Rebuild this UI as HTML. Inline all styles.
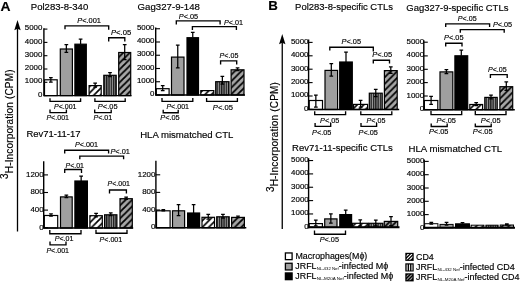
<!DOCTYPE html>
<html lang="en"><head><meta charset="utf-8"><title>Figure</title>
<style>html,body{margin:0;padding:0;background:#fff;}body{width:520px;height:283px;overflow:hidden;}svg{display:block;}</style>
</head><body>
<svg width="520" height="283" viewBox="0 0 520 283" font-family="Liberation Sans, sans-serif" fill="#000"><style>text{stroke:#000;stroke-width:0.16px;}</style>
<defs>
<pattern id="hw" patternUnits="userSpaceOnUse" width="6.5" height="6.5" patternTransform="translate(0.5,0)">
<rect width="6.5" height="6.5" fill="#fff"/><path d="M-1.625 1.625L1.625 -1.625M-1.625 8.125L8.125 -1.625M4.875 8.125L8.125 4.875" stroke="#000" stroke-width="1.65"/></pattern>
<pattern id="dg" patternUnits="userSpaceOnUse" width="6.5" height="6.5" patternTransform="translate(0.5,0)">
<rect width="6.5" height="6.5" fill="#a6a6a6"/><path d="M-1.625 1.625L1.625 -1.625M-1.625 8.125L8.125 -1.625M4.875 8.125L8.125 4.875" stroke="#000" stroke-width="1.8"/></pattern>
<pattern id="vs" patternUnits="userSpaceOnUse" width="2.3" height="4" patternTransform="translate(0.3,0)">
<rect width="2.3" height="4" fill="#989898"/><rect x="0" width="1.3" height="4" fill="#1c1c1c"/></pattern>
</defs>
<rect width="520" height="283" fill="#fff"/>
<text x="0.60" y="10.50" font-size="12.5" font-weight="bold" textLength="10.00" lengthAdjust="spacingAndGlyphs">A</text>
<text x="268.20" y="10.00" font-size="12.5" font-weight="bold" textLength="9.60" lengthAdjust="spacingAndGlyphs">B</text>
<text x="30.80" y="10.30" font-size="9.6" textLength="57.40" lengthAdjust="spacingAndGlyphs">Pol283-8-340</text>
<text x="137.60" y="10.30" font-size="9.6" textLength="62.30" lengthAdjust="spacingAndGlyphs">Gag327-9-148</text>
<text x="26.40" y="137.00" font-size="9.6" textLength="54.10" lengthAdjust="spacingAndGlyphs">Rev71-11-17</text>
<text x="140.20" y="137.80" font-size="9.6" textLength="93.20" lengthAdjust="spacingAndGlyphs">HLA mismatched CTL</text>
<text x="295.10" y="9.90" font-size="9.6" textLength="97.90" lengthAdjust="spacingAndGlyphs">Pol283-8-specific CTLs</text>
<text x="406.30" y="11.30" font-size="9.6" textLength="102.10" lengthAdjust="spacingAndGlyphs">Gag327-9-specific CTLs</text>
<text x="292.00" y="150.90" font-size="9.6" textLength="100.90" lengthAdjust="spacingAndGlyphs">Rev71-11-specific CTLs</text>
<text x="408.50" y="152.00" font-size="9.6" textLength="93.70" lengthAdjust="spacingAndGlyphs">HLA mismatched CTL</text>
<path d="M17.50 231.50V28.20" stroke="#000" stroke-width="1.3" fill="none"/>
<path d="M17.50 20.00L20.70 30.20L17.50 28.70L14.30 30.20Z" fill="#000"/>
<path d="M282.25 229.00V42.20" stroke="#000" stroke-width="1.3" fill="none"/>
<path d="M282.25 34.00L285.45 44.20L282.25 42.70L279.05 44.20Z" fill="#000"/>
<g transform="translate(12.60,178.90) rotate(-90)"><text x="0" y="0" font-size="10" textLength="109.40" lengthAdjust="spacing"><tspan dy="-4.7">3</tspan><tspan dy="4.7">H-Incorporation (CPM)</tspan></text></g>
<g transform="translate(278.20,192.10) rotate(-90)"><text x="0" y="0" font-size="10" textLength="110.00" lengthAdjust="spacing"><tspan dy="-4.7">3</tspan><tspan dy="4.7">H-Incorporation (CPM)</tspan></text></g>
<rect x="44.50" y="79.80" width="12.70" height="15.80" fill="#fff" stroke="#000" stroke-width="1.2"/>
<rect x="60.30" y="49.00" width="12.10" height="46.60" fill="#9f9f9f" stroke="#000" stroke-width="1.2"/>
<rect x="74.90" y="44.20" width="11.40" height="51.40" fill="#000" stroke="#000" stroke-width="1.2"/>
<rect x="89.10" y="85.60" width="12.10" height="10.00" fill="url(#hw)" stroke="#000" stroke-width="1.2"/>
<rect x="103.80" y="75.30" width="12.40" height="20.30" fill="url(#vs)" stroke="#000" stroke-width="1.2"/>
<rect x="118.70" y="52.50" width="12.00" height="43.10" fill="url(#dg)" stroke="#000" stroke-width="1.2"/>
<path d="M43.90 28.30V95.60H131.50" fill="none" stroke="#000" stroke-width="1.4"/>
<path d="M43.90 29.10H47.40" stroke="#000" stroke-width="1.1"/>
<path d="M43.90 42.40H47.40" stroke="#000" stroke-width="1.1"/>
<path d="M43.90 55.70H47.40" stroke="#000" stroke-width="1.1"/>
<path d="M43.90 69.00H47.40" stroke="#000" stroke-width="1.1"/>
<path d="M43.90 82.30H47.40" stroke="#000" stroke-width="1.1"/>
<path d="M43.90 95.60H47.40" stroke="#000" stroke-width="1.1"/>
<path d="M50.85 77.60V82.00M49.00 77.60h3.7M49.00 82.00h3.7" fill="none" stroke="#000" stroke-width="1.25"/>
<path d="M66.35 44.60V52.30M64.50 44.60h3.7M64.50 52.30h3.7" fill="none" stroke="#000" stroke-width="1.25"/>
<path d="M80.60 39.20V44.10M78.75 39.20h3.7" fill="none" stroke="#000" stroke-width="1.25"/>
<path d="M95.15 83.20V87.00M93.30 83.20h3.7M93.30 87.00h3.7" fill="none" stroke="#000" stroke-width="1.25"/>
<path d="M110.00 72.50V76.50M108.15 72.50h3.7M108.15 76.50h3.7" fill="none" stroke="#000" stroke-width="1.25"/>
<path d="M124.70 44.70V59.50M122.85 44.70h3.7M122.85 59.50h3.7" fill="none" stroke="#000" stroke-width="1.25"/>
<text x="24.83" y="30.23" font-size="7.9" textLength="17.57" lengthAdjust="spacingAndGlyphs">5000</text>
<text x="24.83" y="43.53" font-size="7.9" textLength="17.57" lengthAdjust="spacingAndGlyphs">4000</text>
<text x="24.83" y="56.83" font-size="7.9" textLength="17.57" lengthAdjust="spacingAndGlyphs">3000</text>
<text x="24.83" y="70.13" font-size="7.9" textLength="17.57" lengthAdjust="spacingAndGlyphs">2000</text>
<text x="24.83" y="83.43" font-size="7.9" textLength="17.57" lengthAdjust="spacingAndGlyphs">1000</text>
<text x="38.01" y="96.73" font-size="7.9" textLength="4.39" lengthAdjust="spacingAndGlyphs">0</text>
<rect x="156.30" y="88.70" width="12.80" height="6.30" fill="#fff" stroke="#000" stroke-width="1.2"/>
<rect x="171.50" y="57.10" width="12.50" height="37.90" fill="#9f9f9f" stroke="#000" stroke-width="1.2"/>
<rect x="187.00" y="37.70" width="11.50" height="57.30" fill="#000" stroke="#000" stroke-width="1.2"/>
<rect x="200.80" y="90.60" width="13.00" height="4.40" fill="url(#hw)" stroke="#000" stroke-width="1.2"/>
<rect x="215.70" y="81.70" width="13.30" height="13.30" fill="url(#vs)" stroke="#000" stroke-width="1.2"/>
<rect x="231.10" y="69.80" width="12.90" height="25.20" fill="url(#dg)" stroke="#000" stroke-width="1.2"/>
<path d="M155.70 27.50V95.00H245.00" fill="none" stroke="#000" stroke-width="1.4"/>
<path d="M155.70 28.75H160.00" stroke="#000" stroke-width="1.1"/>
<path d="M155.70 42.00H160.00" stroke="#000" stroke-width="1.1"/>
<path d="M155.70 55.25H160.00" stroke="#000" stroke-width="1.1"/>
<path d="M155.70 68.50H160.00" stroke="#000" stroke-width="1.1"/>
<path d="M155.70 81.75H160.00" stroke="#000" stroke-width="1.1"/>
<path d="M155.70 95.00H160.00" stroke="#000" stroke-width="1.1"/>
<path d="M162.70 85.60V90.60M160.85 85.60h3.7M160.85 90.60h3.7" fill="none" stroke="#000" stroke-width="1.25"/>
<path d="M177.75 45.20V67.80M175.90 45.20h3.7M175.90 67.80h3.7" fill="none" stroke="#000" stroke-width="1.25"/>
<path d="M192.75 32.40V37.60M190.90 32.40h3.7" fill="none" stroke="#000" stroke-width="1.25"/>
<path d="M222.35 76.30V84.00M220.50 76.30h3.7M220.50 84.00h3.7" fill="none" stroke="#000" stroke-width="1.25"/>
<path d="M237.55 67.80V70.60M235.70 67.80h3.7M235.70 70.60h3.7" fill="none" stroke="#000" stroke-width="1.25"/>
<text x="136.93" y="29.78" font-size="7.9" textLength="17.57" lengthAdjust="spacingAndGlyphs">5000</text>
<text x="136.93" y="43.03" font-size="7.9" textLength="17.57" lengthAdjust="spacingAndGlyphs">4000</text>
<text x="136.93" y="56.28" font-size="7.9" textLength="17.57" lengthAdjust="spacingAndGlyphs">3000</text>
<text x="136.93" y="69.53" font-size="7.9" textLength="17.57" lengthAdjust="spacingAndGlyphs">2000</text>
<text x="136.93" y="82.78" font-size="7.9" textLength="17.57" lengthAdjust="spacingAndGlyphs">1000</text>
<text x="150.11" y="96.03" font-size="7.9" textLength="4.39" lengthAdjust="spacingAndGlyphs">0</text>
<rect x="44.30" y="215.50" width="13.40" height="12.50" fill="#fff" stroke="#000" stroke-width="1.2"/>
<rect x="60.50" y="196.90" width="11.70" height="31.10" fill="#9f9f9f" stroke="#000" stroke-width="1.2"/>
<rect x="74.90" y="181.00" width="12.50" height="47.00" fill="#000" stroke="#000" stroke-width="1.2"/>
<rect x="89.90" y="215.70" width="12.40" height="12.30" fill="url(#hw)" stroke="#000" stroke-width="1.2"/>
<rect x="104.60" y="214.80" width="12.30" height="13.20" fill="url(#vs)" stroke="#000" stroke-width="1.2"/>
<rect x="120.00" y="198.70" width="12.30" height="29.30" fill="url(#dg)" stroke="#000" stroke-width="1.2"/>
<path d="M43.70 161.20V228.00H133.20" fill="none" stroke="#000" stroke-width="1.4"/>
<path d="M43.70 174.90H48.00" stroke="#000" stroke-width="1.1"/>
<path d="M43.70 192.50H48.00" stroke="#000" stroke-width="1.1"/>
<path d="M43.70 210.10H48.00" stroke="#000" stroke-width="1.1"/>
<path d="M43.70 227.70H48.00" stroke="#000" stroke-width="1.1"/>
<path d="M51.00 213.80V216.20M49.15 213.80h3.7M49.15 216.20h3.7" fill="none" stroke="#000" stroke-width="1.25"/>
<path d="M66.35 195.00V197.60M64.50 195.00h3.7M64.50 197.60h3.7" fill="none" stroke="#000" stroke-width="1.25"/>
<path d="M81.15 176.20V180.90M79.30 176.20h3.7" fill="none" stroke="#000" stroke-width="1.25"/>
<path d="M96.10 213.30V216.90M94.25 213.30h3.7M94.25 216.90h3.7" fill="none" stroke="#000" stroke-width="1.25"/>
<path d="M110.75 212.90V215.60M108.90 212.90h3.7M108.90 215.60h3.7" fill="none" stroke="#000" stroke-width="1.25"/>
<path d="M126.15 197.20V199.30M124.30 197.20h3.7M124.30 199.30h3.7" fill="none" stroke="#000" stroke-width="1.25"/>
<text x="26.03" y="176.83" font-size="7.9" textLength="17.57" lengthAdjust="spacingAndGlyphs">1200</text>
<text x="30.42" y="194.43" font-size="7.9" textLength="13.18" lengthAdjust="spacingAndGlyphs">800</text>
<text x="30.42" y="212.03" font-size="7.9" textLength="13.18" lengthAdjust="spacingAndGlyphs">400</text>
<text x="39.21" y="229.63" font-size="7.9" textLength="4.39" lengthAdjust="spacingAndGlyphs">0</text>
<rect x="156.50" y="210.80" width="13.60" height="17.00" fill="#fff" stroke="#000" stroke-width="1.2"/>
<rect x="172.50" y="210.80" width="12.10" height="17.00" fill="#9f9f9f" stroke="#000" stroke-width="1.2"/>
<rect x="187.60" y="213.00" width="12.00" height="14.80" fill="#000" stroke="#000" stroke-width="1.2"/>
<rect x="202.00" y="217.30" width="12.50" height="10.50" fill="url(#hw)" stroke="#000" stroke-width="1.2"/>
<rect x="216.70" y="216.80" width="12.50" height="11.00" fill="url(#vs)" stroke="#000" stroke-width="1.2"/>
<rect x="231.60" y="217.40" width="12.80" height="10.40" fill="url(#dg)" stroke="#000" stroke-width="1.2"/>
<path d="M155.90 160.70V227.80H246.30" fill="none" stroke="#000" stroke-width="1.4"/>
<path d="M155.90 174.80H160.20" stroke="#000" stroke-width="1.1"/>
<path d="M155.90 192.40H160.20" stroke="#000" stroke-width="1.1"/>
<path d="M155.90 210.00H160.20" stroke="#000" stroke-width="1.1"/>
<path d="M155.90 227.60H160.20" stroke="#000" stroke-width="1.1"/>
<path d="M163.30 209.60V210.80M161.45 209.60h3.7M161.45 210.80h3.7" fill="none" stroke="#000" stroke-width="1.25"/>
<path d="M178.55 204.70V215.70M176.70 204.70h3.7M176.70 215.70h3.7" fill="none" stroke="#000" stroke-width="1.25"/>
<path d="M193.60 204.70V212.90M191.75 204.70h3.7" fill="none" stroke="#000" stroke-width="1.25"/>
<path d="M208.25 214.40V219.00M206.40 214.40h3.7M206.40 219.00h3.7" fill="none" stroke="#000" stroke-width="1.25"/>
<path d="M222.95 214.30V218.20M221.10 214.30h3.7M221.10 218.20h3.7" fill="none" stroke="#000" stroke-width="1.25"/>
<path d="M238.00 216.10V217.50M236.15 216.10h3.7M236.15 217.50h3.7" fill="none" stroke="#000" stroke-width="1.25"/>
<text x="137.83" y="176.53" font-size="7.9" textLength="17.57" lengthAdjust="spacingAndGlyphs">1200</text>
<text x="142.22" y="194.13" font-size="7.9" textLength="13.18" lengthAdjust="spacingAndGlyphs">800</text>
<text x="142.22" y="211.73" font-size="7.9" textLength="13.18" lengthAdjust="spacingAndGlyphs">400</text>
<text x="151.01" y="229.33" font-size="7.9" textLength="4.39" lengthAdjust="spacingAndGlyphs">0</text>
<rect x="309.20" y="100.50" width="13.30" height="9.00" fill="#fff" stroke="#000" stroke-width="1.2"/>
<rect x="325.00" y="70.40" width="12.60" height="39.10" fill="#9f9f9f" stroke="#000" stroke-width="1.2"/>
<rect x="339.70" y="62.00" width="12.60" height="47.50" fill="#000" stroke="#000" stroke-width="1.2"/>
<rect x="353.60" y="104.40" width="14.00" height="5.10" fill="url(#hw)" stroke="#000" stroke-width="1.2"/>
<rect x="369.30" y="93.20" width="12.90" height="16.30" fill="url(#vs)" stroke="#000" stroke-width="1.2"/>
<rect x="384.40" y="70.60" width="12.80" height="38.90" fill="url(#dg)" stroke="#000" stroke-width="1.2"/>
<path d="M308.60 39.40V109.50H399.20" fill="none" stroke="#000" stroke-width="1.4"/>
<path d="M308.60 42.40H312.60" stroke="#000" stroke-width="1.1"/>
<path d="M308.60 55.80H312.60" stroke="#000" stroke-width="1.1"/>
<path d="M308.60 69.20H312.60" stroke="#000" stroke-width="1.1"/>
<path d="M308.60 82.60H312.60" stroke="#000" stroke-width="1.1"/>
<path d="M308.60 96.00H312.60" stroke="#000" stroke-width="1.1"/>
<path d="M308.60 109.40H312.60" stroke="#000" stroke-width="1.1"/>
<path d="M315.85 95.10V107.00M314.00 95.10h3.7M314.00 107.00h3.7" fill="none" stroke="#000" stroke-width="1.25"/>
<path d="M331.30 63.60V76.00M329.45 63.60h3.7M329.45 76.00h3.7" fill="none" stroke="#000" stroke-width="1.25"/>
<path d="M346.00 52.20V61.90M344.15 52.20h3.7" fill="none" stroke="#000" stroke-width="1.25"/>
<path d="M360.60 100.40V107.20M358.75 100.40h3.7M358.75 107.20h3.7" fill="none" stroke="#000" stroke-width="1.25"/>
<path d="M375.75 89.40V96.60M373.90 89.40h3.7M373.90 96.60h3.7" fill="none" stroke="#000" stroke-width="1.25"/>
<path d="M390.80 66.90V73.40M388.95 66.90h3.7M388.95 73.40h3.7" fill="none" stroke="#000" stroke-width="1.25"/>
<text x="290.93" y="43.73" font-size="7.9" textLength="17.57" lengthAdjust="spacingAndGlyphs">5000</text>
<text x="290.93" y="57.13" font-size="7.9" textLength="17.57" lengthAdjust="spacingAndGlyphs">4000</text>
<text x="290.93" y="70.53" font-size="7.9" textLength="17.57" lengthAdjust="spacingAndGlyphs">3000</text>
<text x="290.93" y="83.93" font-size="7.9" textLength="17.57" lengthAdjust="spacingAndGlyphs">2000</text>
<text x="290.93" y="97.33" font-size="7.9" textLength="17.57" lengthAdjust="spacingAndGlyphs">1000</text>
<text x="304.11" y="110.73" font-size="7.9" textLength="4.39" lengthAdjust="spacingAndGlyphs">0</text>
<rect x="424.40" y="100.50" width="13.40" height="9.20" fill="#fff" stroke="#000" stroke-width="1.2"/>
<rect x="440.00" y="71.90" width="12.80" height="37.80" fill="#9f9f9f" stroke="#000" stroke-width="1.2"/>
<rect x="454.90" y="55.80" width="12.80" height="53.90" fill="#000" stroke="#000" stroke-width="1.2"/>
<rect x="469.80" y="104.50" width="12.80" height="5.20" fill="url(#hw)" stroke="#000" stroke-width="1.2"/>
<rect x="484.80" y="97.40" width="12.40" height="12.30" fill="url(#vs)" stroke="#000" stroke-width="1.2"/>
<rect x="499.90" y="86.70" width="12.80" height="23.00" fill="url(#dg)" stroke="#000" stroke-width="1.2"/>
<path d="M423.80 40.20V109.70H514.80" fill="none" stroke="#000" stroke-width="1.4"/>
<path d="M423.80 42.20H427.80" stroke="#000" stroke-width="1.1"/>
<path d="M423.80 55.90H427.80" stroke="#000" stroke-width="1.1"/>
<path d="M423.80 69.30H427.80" stroke="#000" stroke-width="1.1"/>
<path d="M423.80 82.60H427.80" stroke="#000" stroke-width="1.1"/>
<path d="M423.80 96.00H427.80" stroke="#000" stroke-width="1.1"/>
<path d="M423.80 109.50H427.80" stroke="#000" stroke-width="1.1"/>
<path d="M431.10 96.40V104.30M429.25 96.40h3.7M429.25 104.30h3.7" fill="none" stroke="#000" stroke-width="1.25"/>
<path d="M446.40 69.50V73.50M444.55 69.50h3.7M444.55 73.50h3.7" fill="none" stroke="#000" stroke-width="1.25"/>
<path d="M461.30 50.20V55.70M459.45 50.20h3.7" fill="none" stroke="#000" stroke-width="1.25"/>
<path d="M476.20 102.50V105.50M474.35 102.50h3.7M474.35 105.50h3.7" fill="none" stroke="#000" stroke-width="1.25"/>
<path d="M491.00 95.00V98.80M489.15 95.00h3.7M489.15 98.80h3.7" fill="none" stroke="#000" stroke-width="1.25"/>
<path d="M506.30 81.80V90.30M504.45 81.80h3.7M504.45 90.30h3.7" fill="none" stroke="#000" stroke-width="1.25"/>
<text x="406.53" y="43.73" font-size="7.9" textLength="17.57" lengthAdjust="spacingAndGlyphs">5000</text>
<text x="406.53" y="57.43" font-size="7.9" textLength="17.57" lengthAdjust="spacingAndGlyphs">4000</text>
<text x="406.53" y="70.83" font-size="7.9" textLength="17.57" lengthAdjust="spacingAndGlyphs">3000</text>
<text x="406.53" y="84.13" font-size="7.9" textLength="17.57" lengthAdjust="spacingAndGlyphs">2000</text>
<text x="406.53" y="97.53" font-size="7.9" textLength="17.57" lengthAdjust="spacingAndGlyphs">1000</text>
<text x="419.71" y="111.03" font-size="7.9" textLength="4.39" lengthAdjust="spacingAndGlyphs">0</text>
<rect x="309.20" y="223.60" width="13.20" height="3.70" fill="#fff" stroke="#000" stroke-width="1.2"/>
<rect x="324.70" y="218.90" width="12.30" height="8.40" fill="#9f9f9f" stroke="#000" stroke-width="1.2"/>
<rect x="339.80" y="214.60" width="11.80" height="12.70" fill="#000" stroke="#000" stroke-width="1.2"/>
<rect x="352.60" y="223.30" width="15.30" height="4.00" fill="url(#hw)" stroke="#000" stroke-width="1.2"/>
<rect x="368.70" y="223.30" width="14.20" height="4.00" fill="url(#vs)" stroke="#000" stroke-width="1.2"/>
<rect x="384.30" y="221.40" width="13.40" height="5.90" fill="url(#dg)" stroke="#000" stroke-width="1.2"/>
<path d="M308.60 158.20V228.30" fill="none" stroke="#000" stroke-width="1.4"/>
<path d="M307.90 227.30H399.50" fill="none" stroke="#000" stroke-width="2.0"/>
<path d="M308.60 160.55H313.10" stroke="#000" stroke-width="1.1"/>
<path d="M308.60 173.90H313.10" stroke="#000" stroke-width="1.1"/>
<path d="M308.60 187.25H313.10" stroke="#000" stroke-width="1.1"/>
<path d="M308.60 200.60H313.10" stroke="#000" stroke-width="1.1"/>
<path d="M308.60 213.95H313.10" stroke="#000" stroke-width="1.1"/>
<path d="M308.60 227.30H313.10" stroke="#000" stroke-width="1.1"/>
<path d="M315.80 220.10V225.80M313.95 220.10h3.7M313.95 225.80h3.7" fill="none" stroke="#000" stroke-width="1.25"/>
<path d="M330.85 213.90V223.00M329.00 213.90h3.7M329.00 223.00h3.7" fill="none" stroke="#000" stroke-width="1.25"/>
<path d="M345.70 210.20V214.50M343.85 210.20h3.7" fill="none" stroke="#000" stroke-width="1.25"/>
<path d="M360.25 219.80V225.80M358.40 219.80h3.7M358.40 225.80h3.7" fill="none" stroke="#000" stroke-width="1.25"/>
<path d="M375.80 220.20V225.80M373.95 220.20h3.7M373.95 225.80h3.7" fill="none" stroke="#000" stroke-width="1.25"/>
<path d="M391.00 216.50V225.50M389.15 216.50h3.7M389.15 225.50h3.7" fill="none" stroke="#000" stroke-width="1.25"/>
<text x="291.13" y="161.98" font-size="7.9" textLength="17.57" lengthAdjust="spacingAndGlyphs">5000</text>
<text x="291.13" y="175.33" font-size="7.9" textLength="17.57" lengthAdjust="spacingAndGlyphs">4000</text>
<text x="291.13" y="188.68" font-size="7.9" textLength="17.57" lengthAdjust="spacingAndGlyphs">3000</text>
<text x="291.13" y="202.03" font-size="7.9" textLength="17.57" lengthAdjust="spacingAndGlyphs">2000</text>
<text x="291.13" y="215.38" font-size="7.9" textLength="17.57" lengthAdjust="spacingAndGlyphs">1000</text>
<text x="304.31" y="228.73" font-size="7.9" textLength="4.39" lengthAdjust="spacingAndGlyphs">0</text>
<rect x="424.70" y="223.70" width="13.20" height="4.10" fill="#fff" stroke="#000" stroke-width="1.0"/>
<rect x="440.00" y="224.40" width="13.10" height="3.40" fill="#9f9f9f" stroke="#000" stroke-width="1.0"/>
<rect x="455.50" y="223.80" width="14.00" height="4.00" fill="#000" stroke="#000" stroke-width="1.0"/>
<rect x="471.10" y="225.20" width="12.80" height="2.60" fill="url(#hw)" stroke="#000" stroke-width="1.0"/>
<rect x="485.90" y="225.20" width="12.20" height="2.60" fill="url(#vs)" stroke="#000" stroke-width="1.0"/>
<rect x="500.20" y="225.00" width="13.30" height="2.80" fill="url(#dg)" stroke="#000" stroke-width="1.0"/>
<path d="M424.20 159.60V228.75" fill="none" stroke="#000" stroke-width="1.4"/>
<path d="M423.50 227.80H515.00" fill="none" stroke="#000" stroke-width="1.9"/>
<path d="M424.20 161.40H428.70" stroke="#000" stroke-width="1.1"/>
<path d="M424.20 174.70H428.70" stroke="#000" stroke-width="1.1"/>
<path d="M424.20 188.00H428.70" stroke="#000" stroke-width="1.1"/>
<path d="M424.20 201.30H428.70" stroke="#000" stroke-width="1.1"/>
<path d="M424.20 214.60H428.70" stroke="#000" stroke-width="1.1"/>
<path d="M424.20 227.90H428.70" stroke="#000" stroke-width="1.1"/>
<path d="M431.30 222.40V224.00M429.45 222.40h3.7M429.45 224.00h3.7" fill="none" stroke="#000" stroke-width="1.25"/>
<path d="M446.55 222.30V225.00M444.70 222.30h3.7M444.70 225.00h3.7" fill="none" stroke="#000" stroke-width="1.25"/>
<path d="M462.50 222.60V223.80M460.65 222.60h3.7" fill="none" stroke="#000" stroke-width="1.25"/>
<path d="M506.85 223.90V225.10M505.00 223.90h3.7M505.00 225.10h3.7" fill="none" stroke="#000" stroke-width="1.25"/>
<text x="406.83" y="163.03" font-size="7.9" textLength="17.57" lengthAdjust="spacingAndGlyphs">5000</text>
<text x="406.83" y="176.33" font-size="7.9" textLength="17.57" lengthAdjust="spacingAndGlyphs">4000</text>
<text x="406.83" y="189.63" font-size="7.9" textLength="17.57" lengthAdjust="spacingAndGlyphs">3000</text>
<text x="406.83" y="202.93" font-size="7.9" textLength="17.57" lengthAdjust="spacingAndGlyphs">2000</text>
<text x="406.83" y="216.23" font-size="7.9" textLength="17.57" lengthAdjust="spacingAndGlyphs">1000</text>
<text x="420.01" y="229.53" font-size="7.9" textLength="4.39" lengthAdjust="spacingAndGlyphs">0</text>
<path d="M65.00 29.30V25.90H108.70V29.70" fill="none" stroke="#000" stroke-width="1.35"/>
<text x="77.20" y="23.06" font-size="7.7" textLength="23.80" lengthAdjust="spacingAndGlyphs"><tspan font-style="italic">P</tspan>&lt;.001</text>
<path d="M108.70 41.50V37.70H124.80V41.50" fill="none" stroke="#000" stroke-width="1.35"/>
<text x="111.00" y="34.76" font-size="7.7" textLength="20.20" lengthAdjust="spacingAndGlyphs"><tspan font-style="italic">P</tspan>&lt;.05</text>
<path d="M50.00 98.20V101.30H80.60V98.20" fill="none" stroke="#000" stroke-width="1.35"/>
<text x="54.00" y="108.76" font-size="7.7" textLength="22.50" lengthAdjust="spacingAndGlyphs"><tspan font-style="italic">P</tspan>&lt;.001</text>
<path d="M50.00 109.50V112.60H66.40V109.50" fill="none" stroke="#000" stroke-width="1.35"/>
<text x="46.40" y="120.16" font-size="7.7" textLength="22.60" lengthAdjust="spacingAndGlyphs"><tspan font-style="italic">P</tspan>&lt;.001</text>
<path d="M94.90 98.20V101.30H125.20V98.20" fill="none" stroke="#000" stroke-width="1.35"/>
<text x="97.80" y="108.76" font-size="7.7" textLength="19.80" lengthAdjust="spacingAndGlyphs"><tspan font-style="italic">P</tspan>&lt;.05</text>
<path d="M94.70 109.50V112.60H111.20V109.50" fill="none" stroke="#000" stroke-width="1.35"/>
<text x="93.40" y="120.46" font-size="7.7" textLength="18.90" lengthAdjust="spacingAndGlyphs"><tspan font-style="italic">P</tspan>&lt;.01</text>
<path d="M176.30 24.40V20.90H220.10V24.40" fill="none" stroke="#000" stroke-width="1.35"/>
<text x="178.80" y="19.06" font-size="7.7" textLength="19.40" lengthAdjust="spacingAndGlyphs"><tspan font-style="italic">P</tspan>&lt;.05</text>
<path d="M192.40 30.00V26.60H236.40V30.00" fill="none" stroke="#000" stroke-width="1.35"/>
<text x="224.00" y="24.66" font-size="7.7" textLength="19.00" lengthAdjust="spacingAndGlyphs"><tspan font-style="italic">P</tspan>&lt;.01</text>
<path d="M220.60 64.40V60.80H236.70V64.40" fill="none" stroke="#000" stroke-width="1.35"/>
<text x="219.60" y="57.96" font-size="7.7" textLength="18.80" lengthAdjust="spacingAndGlyphs"><tspan font-style="italic">P</tspan>&lt;.05</text>
<path d="M162.00 97.90V101.40H192.80V97.90" fill="none" stroke="#000" stroke-width="1.35"/>
<text x="166.40" y="108.76" font-size="7.7" textLength="22.60" lengthAdjust="spacingAndGlyphs"><tspan font-style="italic">P</tspan>&lt;.001</text>
<path d="M163.20 109.70V112.70H178.20V109.70" fill="none" stroke="#000" stroke-width="1.35"/>
<text x="160.20" y="120.46" font-size="7.7" textLength="19.50" lengthAdjust="spacingAndGlyphs"><tspan font-style="italic">P</tspan>&lt;.05</text>
<path d="M206.60 97.90V101.40H237.40V97.90" fill="none" stroke="#000" stroke-width="1.35"/>
<text x="212.80" y="109.76" font-size="7.7" textLength="20.10" lengthAdjust="spacingAndGlyphs"><tspan font-style="italic">P</tspan>&lt;.05</text>
<path d="M64.70 153.60V150.20H108.60V153.60" fill="none" stroke="#000" stroke-width="1.35"/>
<text x="75.00" y="147.36" font-size="7.7" textLength="23.00" lengthAdjust="spacingAndGlyphs"><tspan font-style="italic">P</tspan>&lt;.001</text>
<path d="M79.80 159.30V156.10H123.60V159.30" fill="none" stroke="#000" stroke-width="1.35"/>
<text x="110.40" y="153.96" font-size="7.7" textLength="19.60" lengthAdjust="spacingAndGlyphs"><tspan font-style="italic">P</tspan>&lt;.01</text>
<path d="M64.70 173.10V169.50H81.50V173.10" fill="none" stroke="#000" stroke-width="1.35"/>
<text x="65.50" y="167.56" font-size="7.7" textLength="18.50" lengthAdjust="spacingAndGlyphs"><tspan font-style="italic">P</tspan>&lt;.01</text>
<path d="M109.50 193.60V190.00H126.40V193.60" fill="none" stroke="#000" stroke-width="1.35"/>
<text x="107.60" y="186.46" font-size="7.7" textLength="22.40" lengthAdjust="spacingAndGlyphs"><tspan font-style="italic">P</tspan>&lt;.001</text>
<path d="M49.80 230.10V233.70H81.00V230.10" fill="none" stroke="#000" stroke-width="1.35"/>
<text x="54.70" y="240.96" font-size="7.7" textLength="18.80" lengthAdjust="spacingAndGlyphs"><tspan font-style="italic">P</tspan>&lt;.01</text>
<path d="M50.00 241.60V244.90H66.00V241.60" fill="none" stroke="#000" stroke-width="1.35"/>
<text x="46.40" y="253.16" font-size="7.7" textLength="22.60" lengthAdjust="spacingAndGlyphs"><tspan font-style="italic">P</tspan>&lt;.001</text>
<path d="M96.00 229.80V233.20H127.00V229.80" fill="none" stroke="#000" stroke-width="1.35"/>
<text x="99.60" y="242.36" font-size="7.7" textLength="22.60" lengthAdjust="spacingAndGlyphs"><tspan font-style="italic">P</tspan>&lt;.001</text>
<path d="M329.80 50.40V47.20H373.30V51.40" fill="none" stroke="#000" stroke-width="1.35"/>
<text x="341.60" y="44.16" font-size="7.7" textLength="19.50" lengthAdjust="spacingAndGlyphs"><tspan font-style="italic">P</tspan>&lt;.05</text>
<path d="M373.30 63.40V60.20H389.50V63.40" fill="none" stroke="#000" stroke-width="1.35"/>
<text x="372.30" y="57.46" font-size="7.7" textLength="19.90" lengthAdjust="spacingAndGlyphs"><tspan font-style="italic">P</tspan>&lt;.05</text>
<path d="M314.70 111.20V114.60H345.60V111.20" fill="none" stroke="#000" stroke-width="1.35"/>
<text x="320.10" y="122.86" font-size="7.7" textLength="19.30" lengthAdjust="spacingAndGlyphs"><tspan font-style="italic">P</tspan>&lt;.05</text>
<path d="M315.10 123.10V126.30H330.70V123.10" fill="none" stroke="#000" stroke-width="1.35"/>
<text x="312.10" y="134.86" font-size="7.7" textLength="19.30" lengthAdjust="spacingAndGlyphs"><tspan font-style="italic">P</tspan>&lt;.05</text>
<path d="M360.80 111.20V114.60H391.80V111.20" fill="none" stroke="#000" stroke-width="1.35"/>
<text x="366.50" y="122.86" font-size="7.7" textLength="18.90" lengthAdjust="spacingAndGlyphs"><tspan font-style="italic">P</tspan>&lt;.05</text>
<path d="M361.00 123.10V126.30H376.60V123.10" fill="none" stroke="#000" stroke-width="1.35"/>
<text x="358.50" y="134.86" font-size="7.7" textLength="19.30" lengthAdjust="spacingAndGlyphs"><tspan font-style="italic">P</tspan>&lt;.05</text>
<path d="M445.70 27.10V23.80H489.60V27.10" fill="none" stroke="#000" stroke-width="1.35"/>
<text x="457.80" y="21.06" font-size="7.7" textLength="18.80" lengthAdjust="spacingAndGlyphs"><tspan font-style="italic">P</tspan>&lt;.05</text>
<path d="M460.30 32.70V29.60H504.20V32.70" fill="none" stroke="#000" stroke-width="1.35"/>
<text x="492.90" y="27.06" font-size="7.7" textLength="19.30" lengthAdjust="spacingAndGlyphs"><tspan font-style="italic">P</tspan>&lt;.05</text>
<path d="M445.70 46.40V43.20H462.00V46.40" fill="none" stroke="#000" stroke-width="1.35"/>
<text x="444.00" y="40.36" font-size="7.7" textLength="19.50" lengthAdjust="spacingAndGlyphs"><tspan font-style="italic">P</tspan>&lt;.05</text>
<path d="M490.40 78.00V74.60H507.20V78.00" fill="none" stroke="#000" stroke-width="1.35"/>
<text x="487.90" y="71.96" font-size="7.7" textLength="18.80" lengthAdjust="spacingAndGlyphs"><tspan font-style="italic">P</tspan>&lt;.05</text>
<path d="M431.00 111.10V114.60H461.70V111.10" fill="none" stroke="#000" stroke-width="1.35"/>
<text x="436.40" y="122.56" font-size="7.7" textLength="19.50" lengthAdjust="spacingAndGlyphs"><tspan font-style="italic">P</tspan>&lt;.05</text>
<path d="M431.20 123.40V126.50H447.20V123.40" fill="none" stroke="#000" stroke-width="1.35"/>
<text x="428.90" y="134.26" font-size="7.7" textLength="19.50" lengthAdjust="spacingAndGlyphs"><tspan font-style="italic">P</tspan>&lt;.05</text>
<path d="M475.30 111.10V114.60H506.00V111.10" fill="none" stroke="#000" stroke-width="1.35"/>
<text x="480.80" y="122.56" font-size="7.7" textLength="19.80" lengthAdjust="spacingAndGlyphs"><tspan font-style="italic">P</tspan>&lt;.05</text>
<path d="M475.30 123.40V126.50H491.20V123.40" fill="none" stroke="#000" stroke-width="1.35"/>
<text x="472.80" y="134.26" font-size="7.7" textLength="19.80" lengthAdjust="spacingAndGlyphs"><tspan font-style="italic">P</tspan>&lt;.05</text>
<path d="M314.50 230.50V234.20H345.50V230.50" fill="none" stroke="#000" stroke-width="1.35"/>
<text x="319.70" y="242.16" font-size="7.7" textLength="19.30" lengthAdjust="spacingAndGlyphs"><tspan font-style="italic">P</tspan>&lt;.05</text>
<rect x="285.40" y="252.95" width="6.70" height="6.70" fill="#fff" stroke="#000" stroke-width="1.3"/>
<rect x="285.40" y="263.25" width="6.70" height="6.70" fill="#9f9f9f" stroke="#000" stroke-width="1.3"/>
<rect x="285.40" y="272.95" width="6.70" height="6.70" fill="#000" stroke="#000" stroke-width="1.3"/>
<text x="295.50" y="259.30" font-size="9" textLength="71.80" lengthAdjust="spacingAndGlyphs">Macrophages(Mϕ)</text>
<text x="295.30" y="269.30" font-size="9" textLength="21.20" lengthAdjust="spacingAndGlyphs">JRFL</text>
<text x="316.70" y="269.50" font-size="3.9" textLength="22.00" lengthAdjust="spacingAndGlyphs" style="stroke:none">NL-432 Nef</text>
<text x="338.70" y="269.30" font-size="9" textLength="49.50" lengthAdjust="spacingAndGlyphs">-infected Mϕ</text>
<text x="295.30" y="279.30" font-size="9" textLength="21.20" lengthAdjust="spacingAndGlyphs">JRFL</text>
<text x="316.70" y="279.50" font-size="3.9" textLength="27.00" lengthAdjust="spacingAndGlyphs" style="stroke:none">NL-M20A Nef</text>
<text x="343.70" y="279.30" font-size="9" textLength="49.50" lengthAdjust="spacingAndGlyphs">-infected Mϕ</text>
<clipPath id="c1"><rect x="406.55" y="254.05" width="5.90" height="5.60"/></clipPath>
<rect x="405.30" y="252.80" width="8.4" height="8.1" fill="#000"/>
<path d="M401.32 261.17L413.32 249.17M403.05 262.90L415.05 250.90M404.78 264.63L416.78 252.63" stroke="#fff" stroke-width="1.15" clip-path="url(#c1)" fill="none"/>
<rect x="405.3" y="263.3" width="8.4" height="8.2" fill="#000"/><path d="M407.15 264.6v6.0M409.55 264.6v6.0M411.95 264.6v6.0" stroke="#f4f4f4" stroke-width="1.05" fill="none"/>
<clipPath id="c3"><rect x="406.55" y="274.55" width="5.90" height="5.60"/></clipPath>
<rect x="405.30" y="273.30" width="8.4" height="8.1" fill="#000"/>
<path d="M401.32 281.67L413.32 269.67M403.05 283.40L415.05 271.40M404.78 285.13L416.78 273.13" stroke="#9a9a9a" stroke-width="1.15" clip-path="url(#c3)" fill="none"/>
<text x="416.00" y="260.00" font-size="9" textLength="17.80" lengthAdjust="spacingAndGlyphs">CD4</text>
<text x="416.00" y="270.30" font-size="9" textLength="21.20" lengthAdjust="spacingAndGlyphs">JRFL</text>
<text x="437.40" y="270.50" font-size="3.9" textLength="22.40" lengthAdjust="spacingAndGlyphs" style="stroke:none">NL-432 Nef</text>
<text x="459.80" y="270.30" font-size="9" textLength="55.00" lengthAdjust="spacingAndGlyphs">-infected CD4</text>
<text x="416.00" y="280.30" font-size="9" textLength="21.20" lengthAdjust="spacingAndGlyphs">JRFL</text>
<text x="437.40" y="280.50" font-size="3.9" textLength="27.00" lengthAdjust="spacingAndGlyphs" style="stroke:none">NL-M20A Nef</text>
<text x="464.40" y="280.30" font-size="9" textLength="55.00" lengthAdjust="spacingAndGlyphs">-infected CD4</text>
</svg>
</body></html>
